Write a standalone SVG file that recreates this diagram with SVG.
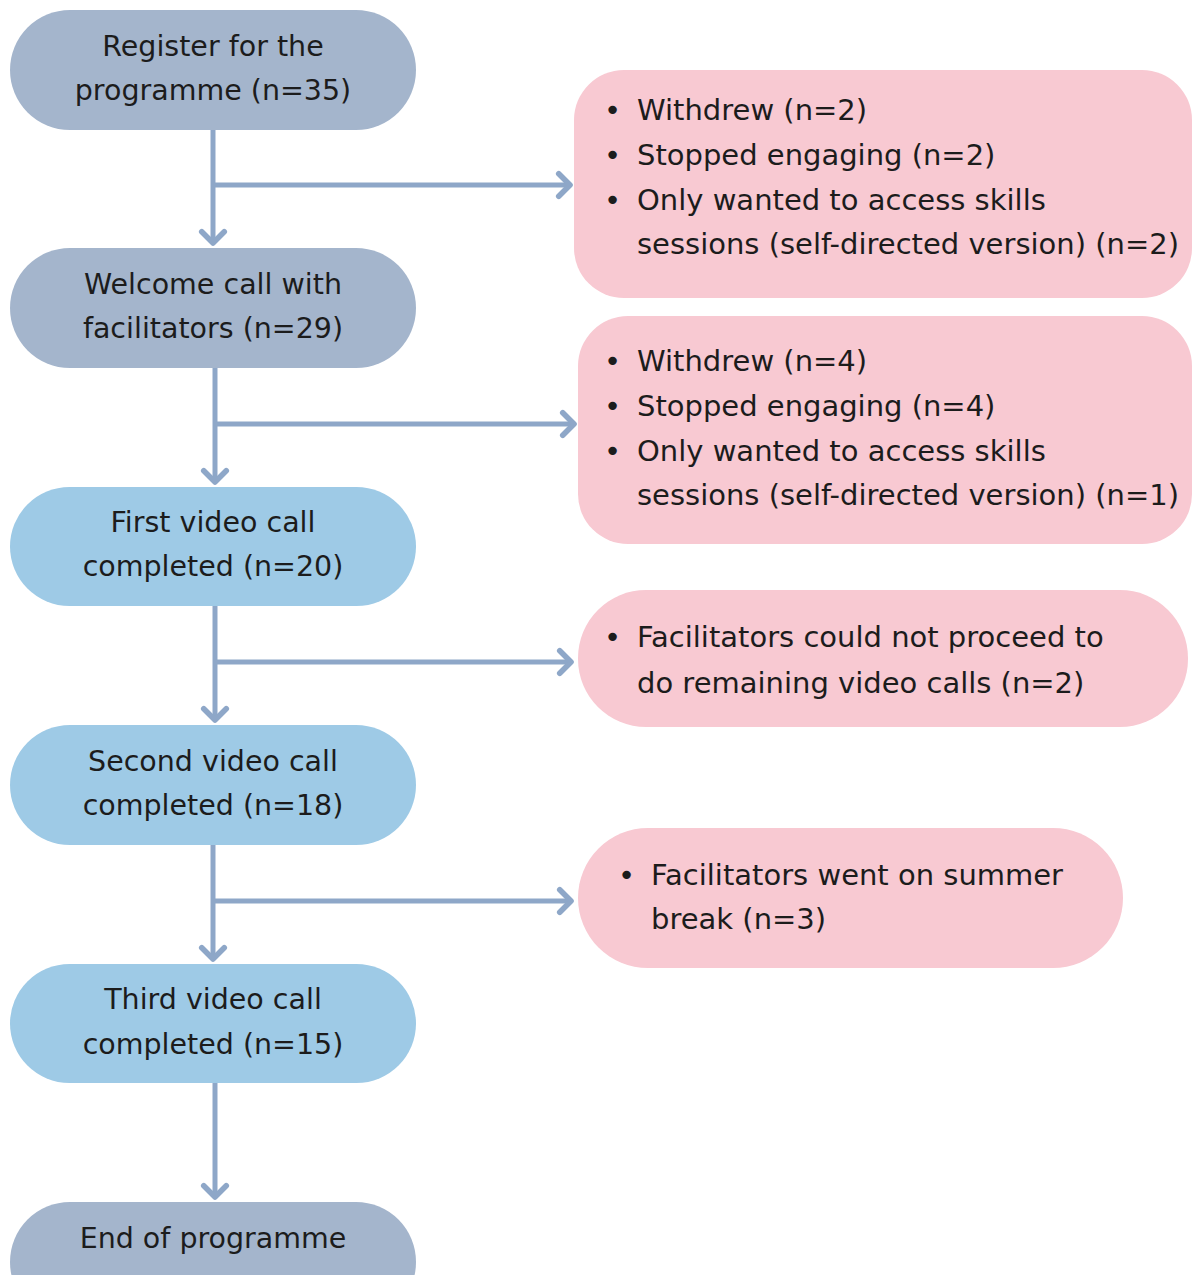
<svg xmlns="http://www.w3.org/2000/svg" width="1192" height="1275" viewBox="0 0 1192 1275">
  <style>
    .step { fill: #a4b5cc; }
    .video { fill: #9ecae6; }
    .exit { fill: #f8c9d2; }
    .label { font-family: "DejaVu Sans", "Liberation Sans", sans-serif; font-size: 28.5px; fill: #1c1c1c; text-anchor: middle; }
    .item { font-family: "DejaVu Sans", "Liberation Sans", sans-serif; font-size: 29px; fill: #1c1c1c; }
    .link { fill: none; stroke: #8ea7c8; stroke-width: 5; marker-end: url(#chevron); }
  </style>
  <defs>
    <marker id="chevron" markerUnits="userSpaceOnUse" markerWidth="30" markerHeight="30" viewBox="-16 -16 32 32" refX="0" refY="0" orient="auto">
      <path d="M-12,-12 L0,0 L-12,12" fill="none" stroke="#8ea7c8" stroke-width="6" stroke-linecap="round" stroke-linejoin="round"/>
    </marker>
  </defs>
  <rect width="1192" height="1275" fill="#ffffff"/>

  <!-- connectors -->
  <g id="connectors">
    <path class="link" d="M213,130 V243"/>
    <path class="link" d="M213,185 H570"/>
    <path class="link" d="M215,368 V482"/>
    <path class="link" d="M215,424 H574"/>
    <path class="link" d="M215,606 V720"/>
    <path class="link" d="M215,662 H571"/>
    <path class="link" d="M213,845 V959"/>
    <path class="link" d="M213,901 H571"/>
    <path class="link" d="M215,1083 V1197"/>
  </g>

  <!-- main pathway -->
  <g id="register">
    <rect class="step" x="10" y="10" width="406" height="120" rx="60"/>
    <text class="label" x="213" y="56">Register for the</text>
    <text class="label" x="213" y="100">programme (n=35)</text>
  </g>
  <g id="welcome">
    <rect class="step" x="10" y="248" width="406" height="120" rx="60"/>
    <text class="label" x="213" y="294">Welcome call with</text>
    <text class="label" x="213" y="338">facilitators (n=29)</text>
  </g>
  <g id="first-call">
    <rect class="video" x="10" y="487" width="406" height="119" rx="59.5"/>
    <text class="label" x="213" y="532">First video call</text>
    <text class="label" x="213" y="576">completed (n=20)</text>
  </g>
  <g id="second-call">
    <rect class="video" x="10" y="725" width="406" height="120" rx="60"/>
    <text class="label" x="213" y="771">Second video call</text>
    <text class="label" x="213" y="815">completed (n=18)</text>
  </g>
  <g id="third-call">
    <rect class="video" x="10" y="964" width="406" height="119" rx="59.5"/>
    <text class="label" x="213" y="1009">Third video call</text>
    <text class="label" x="213" y="1054">completed (n=15)</text>
  </g>
  <g id="end">
    <rect class="step" x="10" y="1202" width="406" height="120" rx="60"/>
    <text class="label" x="213" y="1248">End of programme</text>
  </g>

  <!-- drop-out reasons -->
  <g id="exit-1">
    <rect class="exit" x="574" y="70" width="618" height="228" rx="50"/>
    <text class="item" x="604" y="120">•</text>
    <text class="item" x="637" y="120">Withdrew (n=2)</text>
    <text class="item" x="604" y="165">•</text>
    <text class="item" x="637" y="165">Stopped engaging (n=2)</text>
    <text class="item" x="604" y="210">•</text>
    <text class="item" x="637" y="210">Only wanted to access skills</text>
    <text class="item" x="637" y="254">sessions (self-directed version) (n=2)</text>
  </g>
  <g id="exit-2">
    <rect class="exit" x="578" y="316" width="614" height="228" rx="50"/>
    <text class="item" x="604" y="371">•</text>
    <text class="item" x="637" y="371">Withdrew (n=4)</text>
    <text class="item" x="604" y="416">•</text>
    <text class="item" x="637" y="416">Stopped engaging (n=4)</text>
    <text class="item" x="604" y="461">•</text>
    <text class="item" x="637" y="461">Only wanted to access skills</text>
    <text class="item" x="637" y="505">sessions (self-directed version) (n=1)</text>
  </g>
  <g id="exit-3">
    <rect class="exit" x="578" y="590" width="610" height="137" rx="68"/>
    <text class="item" x="604" y="647">•</text>
    <text class="item" x="637" y="647">Facilitators could not proceed to</text>
    <text class="item" x="637" y="693">do remaining video calls (n=2)</text>
  </g>
  <g id="exit-4">
    <rect class="exit" x="578" y="828" width="545" height="140" rx="70"/>
    <text class="item" x="618" y="885">•</text>
    <text class="item" x="651" y="885">Facilitators went on summer</text>
    <text class="item" x="651" y="929">break (n=3)</text>
  </g>
</svg>
